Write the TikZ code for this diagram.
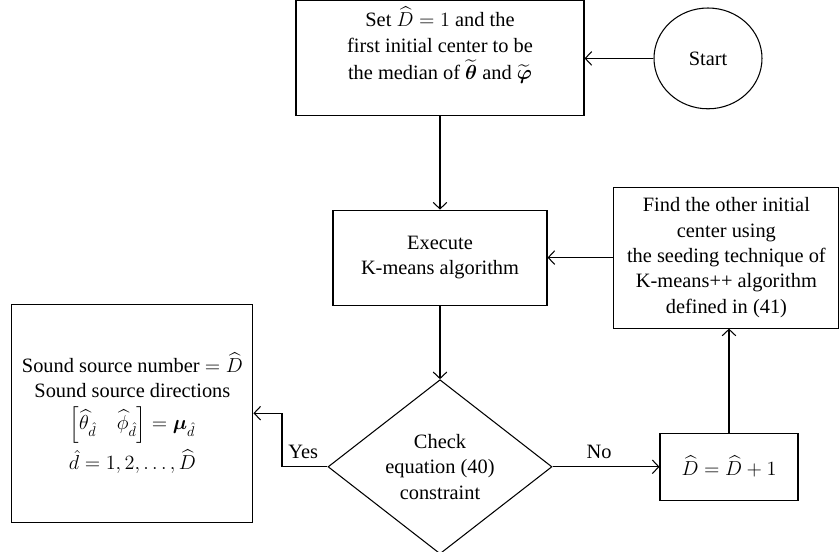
\documentclass[tikz,border=0pt]{standalone}
\usepackage{amsmath}
\usepackage{amssymb}
\usepackage{fontspec}
\setmainfont{Liberation Serif}
\usepackage{tikz}
\usetikzlibrary{positioning, arrows.meta, shapes.geometric, calc}

\begin{document}
\begin{tikzpicture}[font=\fontsize{14.5}{18}\selectfont,
  box/.style={draw, line width=0.75pt, align=center, inner sep=2pt},
  startnode/.style={draw, ellipse, line width=0.75pt, minimum width=2.7cm, minimum height=2.52cm},
  check/.style={draw, diamond, line width=0.75pt, align=center, inner sep=0pt, minimum width=5.6cm, minimum height=4.1cm},
  flow/.style={line width=0.75pt, -{Straight Barb[length=1.6mm, width=3.4mm]}},
  tag/.style={inner sep=1pt}]
  \useasboundingbox (0,0) rectangle (21,-13.8);
  \node[box, minimum width=7.2cm, minimum height=2.875cm] (init) at (11.0,-1.46) {Set $\widehat{D}=1$ and the\\[1pt] first initial center to be\\[1pt] the median of $\widetilde{\boldsymbol{\theta}}$ and $\widetilde{\boldsymbol{\varphi}}$\\[4pt]};
  \node[startnode] (start) at (17.7,-1.46) {Start};
  \node[box, minimum width=5.35cm, minimum height=2.375cm] (kmeans) at (11.0,-6.44) {Execute\\ K-means algorithm};
  \node[box, minimum width=5.625cm, minimum height=3.525cm] (seed) at (18.16,-6.44) {Find the other initial\\ center using\\ the seeding technique of\\ K-means++ algorithm\\ defined in (41)};
  \node[check] (check) at (11.0,-11.67) {Check\\ equation (40)\\ constraint};
  \node[box, minimum width=3.45cm, minimum height=1.675cm] (incr) at (18.225,-11.67) {$\widehat{D}=\widehat{D}+1$};
  \node[box, minimum width=6.025cm, minimum height=5.45cm] (result) at (3.31,-10.33) {Sound source number $=\widehat{D}$\\ Sound source directions\\[5pt] $\left[\widehat{\theta}_{\hat{d}}\quad\widehat{\phi}_{\hat{d}}\right]=\boldsymbol{\mu}_{\hat{d}}$\\[4pt] $\hat{d}=1,2,\ldots,\widehat{D}$};
  \coordinate (bend) at (7.05,-11.67);
  \node[tag] (yes) at (7.58,-11.3) {Yes};
  \node[tag] (no) at (14.98,-11.3) {No};
  \draw[flow] (start) -- (init);
  \draw[flow] (init) -- (kmeans);
  \draw[flow] (kmeans) -- (check);
  \draw[flow] (check.west) -- (bend) |- (result.east);
  \draw[flow] (check) -- (incr);
  \draw[flow] (incr.north) -- (incr.north |- seed.south);
  \draw[flow] (seed) -- (kmeans);
\end{tikzpicture}
\end{document}
